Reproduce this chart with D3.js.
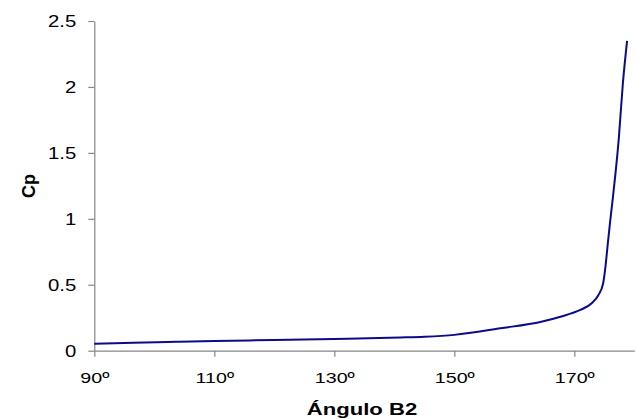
<!DOCTYPE html>
<html>
<head>
<meta charset="utf-8">
<script src="https://cdn.jsdelivr.net/npm/d3@7"></script>
<style>
  body { margin: 0; background: #fff; }
  text { font-family: Arial, "Liberation Sans", sans-serif; fill: #000; }
  .axis path, .axis line { stroke: #868686; stroke-width: 1.2; }
  .line_cp { fill: none; stroke: #0b0b8a; stroke-width: 2; }
</style>
</head>
<body>
<div id="container"></div>
<script>

//---------------------
// DATA
//---------------------

const angles = [90, 96.5, 103.5, 110, 120, 130, 141, 145, 150, 157.7, 164.5, 167.7,
                171, 172.9, 174, 174.8, 175.2, 175.6, 176, 176.4, 177.4, 178.1, 178.8];
const cp = [0.053, 0.061, 0.068, 0.074, 0.081, 0.089, 0.100, 0.106, 0.120, 0.170, 0.220, 0.258,
            0.309, 0.360, 0.420, 0.510, 0.640, 0.820, 0.990, 1.150, 1.600, 2.030, 2.350];

const x_ticks = [90, 110, 130, 150, 170];
const y_ticks = [0, 0.5, 1, 1.5, 2, 2.5];

const x_title = 'Ángulo B2';
const y_title = 'Cp';

// the original picture is stretched sideways, text follows it
const stretch = 1.27;

//---------------------
// SVG + SCALES
//---------------------

const svg = d3.select('#container')
              .append('svg')
              .attr('width', 637)
              .attr('height', 419);

const scale_x = d3.scaleLinear()
                  .domain([90, 180])
                  .range([94.3, 634.3]);

const scale_y = d3.scaleLinear()
                  .domain([0, 2.5])
                  .range([350.7, 21]);

//---------------------
// AXES
//---------------------

const axis_x = d3.axisBottom(scale_x)
                 .tickValues(x_ticks)
                 .tickSize(6)
                 .tickSizeOuter(0)
                 .tickFormat(d => d + 'º');

const g_x = svg.append('g')
               .attr('class', 'axis')
               .attr('transform', `translate(0, ${scale_y(0)})`)
               .call(axis_x);

g_x.selectAll('text')
   .attr('y', 32)
   .attr('dy', 0)
   .attr('font-size', 15.5)
   .attr('transform', `scale(${stretch}, 1)`);

const axis_y = d3.axisLeft(scale_y)
                 .tickValues(y_ticks)
                 .tickSize(6)
                 .tickSizeOuter(0)
                 .tickFormat(d => String(d));

const g_y = svg.append('g')
               .attr('class', 'axis')
               .attr('transform', `translate(${scale_x(90)}, 0)`)
               .call(axis_y);

g_y.selectAll('text')
   .attr('x', -18 / stretch)
   .attr('dy', '0.36em')
   .attr('font-size', 16)
   .attr('transform', `scale(${stretch}, 1)`);

//---------------------
// LINE
//---------------------

const points = angles.map((a, i) => ({ a: a, v: cp[i] }));

const line = d3.line()
               .x(d => scale_x(d.a))
               .y(d => scale_y(d.v))
               .curve(d3.curveMonotoneX);

svg.append('path')
   .attr('class', 'line_cp')
   .datum(points)
   .attr('d', line);

//---------------------
// TITLES
//---------------------

svg.append('text')
   .attr('transform', `translate(362, 415) scale(1.3, 1)`)
   .attr('text-anchor', 'middle')
   .attr('font-size', 17)
   .attr('font-weight', 'bold')
   .text(x_title);

svg.append('text')
   .attr('transform', 'translate(35, 186) rotate(-90)')
   .attr('text-anchor', 'middle')
   .attr('font-size', 18)
   .attr('font-weight', 'bold')
   .text(y_title);

</script>
</body>
</html>
